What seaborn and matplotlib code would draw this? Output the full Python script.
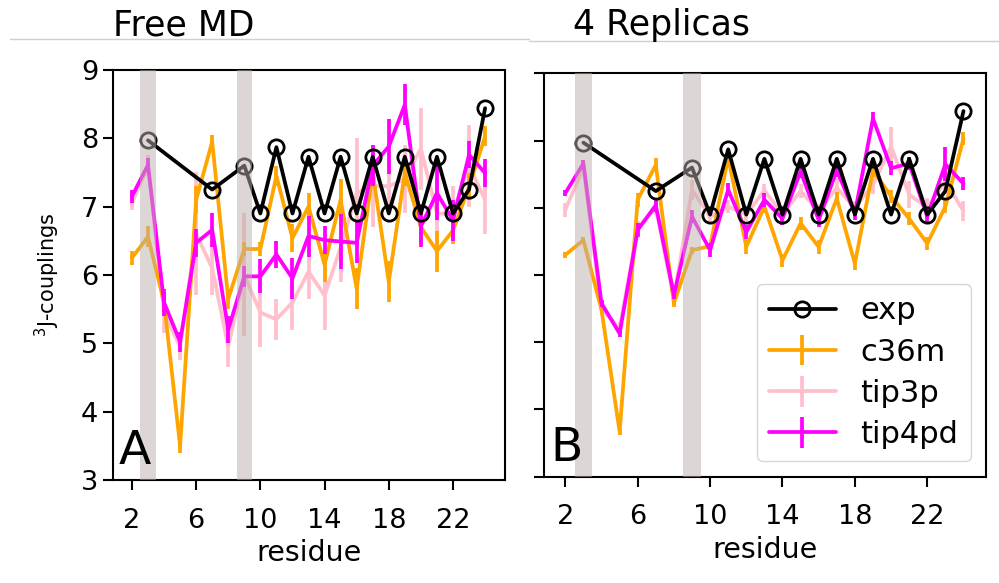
import numpy as np
import matplotlib
matplotlib.use("Agg")
import matplotlib.pyplot as plt
import seaborn as sns
from matplotlib.lines import Line2D

sns.set_theme(style="ticks")
plt.rcParams['font.family'] = ['DejaVu Sans']
plt.rcParams['text.color'] = 'black'
plt.rcParams['axes.labelcolor'] = 'black'

# data
residues = list(range(2, 25))
exp_res = [3, 7, 9, 10, 11, 12, 13, 14, 15, 16, 17, 18, 19, 20, 21, 22, 23, 24]
exp_val = [7.97, 7.25, 7.6, 6.9, 7.87, 6.9, 7.73, 6.9, 7.73, 6.9, 7.73, 6.9,
           7.73, 6.9, 7.73, 6.9, 7.25, 8.44]
highlight = [3, 9]

# Free MD
c36m_free = [6.25, 6.56, 5.6, 3.5, 7.1, 7.95, 5.65, 6.38, 6.38, 7.45, 6.54, 7.0,
             6.15, 7.1, 5.8, 7.5, 5.9, 7.5, 6.7, 6.35, 6.65, 7.29, 8.03]
c36m_free_err = [0.1, 0.15, 0.15, 0.1, 0.2, 0.1, 0.15, 0.1, 0.1, 0.15, 0.2, 0.2,
                 0.25, 0.3, 0.3, 0.2, 0.3, 0.2, 0.25, 0.3, 0.2, 0.2, 0.15]
tip3p_free = [7.05, 7.6, 5.45, 4.95, 6.6, 6.1, 4.95, 6.0, 5.45, 5.35, 5.6, 6.05,
              5.7, 6.4, 7.2, 7.3, 7.3, 7.4, 7.85, 6.9, 6.9, 7.6, 7.1]
tip3p_free_err = [0.1, 0.15, 0.3, 0.2, 0.9, 0.4, 0.3, 0.9, 0.5, 0.3, 0.4, 0.4,
                  0.5, 0.5, 0.8, 0.6, 0.4, 0.5, 0.6, 0.5, 0.4, 0.6, 0.5]
tip4pd_free = [7.15, 7.61, 5.6, 5.02, 6.47, 6.66, 5.2, 5.98, 5.98, 6.3, 5.95, 6.57,
               6.51, 6.49, 6.47, 7.6, 7.88, 8.49, 6.71, 7.2, 6.8, 7.76, 7.49]
tip4pd_free_err = [0.1, 0.1, 0.2, 0.15, 0.2, 0.25, 0.2, 0.15, 0.25, 0.2, 0.3, 0.3,
                   0.2, 0.4, 0.3, 0.3, 0.4, 0.3, 0.3, 0.4, 0.3, 0.2, 0.2]

# 4 replicas
c36m_rep = [6.3, 6.52, 5.48, 3.67, 7.12, 7.64, 5.58, 6.37, 6.43, 7.75, 6.42, 7.02,
            6.22, 6.77, 6.42, 7.14, 6.17, 7.56, 7.17, 6.84, 6.47, 7.02, 8.03]
c36m_rep_err = [0.05, 0.05, 0.05, 0.05, 0.1, 0.1, 0.05, 0.05, 0.05, 0.1, 0.1, 0.1,
                0.1, 0.1, 0.1, 0.1, 0.1, 0.1, 0.1, 0.1, 0.1, 0.1, 0.1]
tip3p_rep = [6.97, 7.6, 5.5, 5.2, 6.7, 7.0, 5.65, 7.27, 6.87, 7.02, 6.9, 7.26,
             6.9, 7.25, 6.95, 7.3, 7.0, 7.35, 7.91, 7.2, 7.0, 7.4, 6.95]
tip3p_rep_err = [0.1, 0.1, 0.1, 0.1, 0.1, 0.1, 0.1, 0.15, 0.1, 0.1, 0.1, 0.1,
                 0.1, 0.1, 0.1, 0.15, 0.1, 0.15, 0.3, 0.2, 0.15, 0.2, 0.15]
tip4pd_rep = [7.22, 7.66, 5.58, 5.13, 6.67, 7.04, 5.7, 6.87, 6.37, 7.27, 6.64, 7.12,
              6.84, 7.54, 6.82, 7.56, 6.92, 8.33, 7.59, 7.66, 6.87, 7.65, 7.36]
tip4pd_rep_err = [0.05, 0.05, 0.05, 0.05, 0.1, 0.1, 0.05, 0.1, 0.1, 0.1, 0.1, 0.1,
                  0.1, 0.1, 0.1, 0.1, 0.1, 0.1, 0.1, 0.1, 0.1, 0.25, 0.1]

colors = {'c36m': 'orange', 'tip3p': 'pink', 'tip4pd': 'magenta'}

fig = plt.figure(figsize=(9.99, 5.83), dpi=100)
ax1 = fig.add_axes([0.1131, 0.1767, 0.3924, 0.7033])
ax2 = fig.add_axes([0.5445, 0.1824, 0.4424, 0.6916])


def draw(ax, sims, letter):
    handles = []
    for name, (vals, errs), z in zip(['c36m', 'tip3p', 'tip4pd'], sims, [3, 2, 4]):
        h = ax.errorbar(residues, vals, yerr=errs, color=colors[name], lw=2.7,
                        elinewidth=2.7, capsize=0, label=name, zorder=z)
        handles.append(h)
    sns.lineplot(x=exp_res, y=exp_val, ax=ax, color='black', lw=2.7, marker='o',
                 markersize=11, markerfacecolor='none', markeredgecolor='black',
                 markeredgewidth=2, zorder=5, legend=False)
    for r in highlight:
        ax.axvspan(r - 0.47, r + 0.47, color='#bbb1ab', alpha=0.5, lw=0, zorder=10)
    ax.set_xlim(0.82, 25.24)
    ax.set_ylim(3, 9)
    ax.set_xticks([2, 6, 10, 14, 18, 22])
    ax.set_yticks([3, 4, 5, 6, 7, 8, 9])
    ax.tick_params(labelsize=19.5, length=7, width=1.5, colors='black')
    ax.tick_params(axis='x', pad=13)
    for s in ax.spines.values():
        s.set_linewidth(1.5)
        s.set_color('black')
    ax.set_xlabel('residue', fontsize=20.5, labelpad=4)
    ax.text(0.015, 0.015, letter, transform=ax.transAxes, fontsize=34,
            ha='left', va='bottom', zorder=11)
    exp_handle = Line2D([], [], color='black', lw=2.7, marker='o', markersize=11,
                        markerfacecolor='none', markeredgewidth=2)
    return [exp_handle] + handles


draw(ax1, [(c36m_free, c36m_free_err), (tip3p_free, tip3p_free_err),
           (tip4pd_free, tip4pd_free_err)], 'A')
hs = draw(ax2, [(c36m_rep, c36m_rep_err), (tip3p_rep, tip3p_rep_err),
                (tip4pd_rep, tip4pd_rep_err)], 'B')
ax1.set_ylabel('$^3$J-couplings', fontsize=15, labelpad=14)
ax2.set_yticklabels([])
ax2.legend(hs, ['exp', 'c36m', 'tip3p', 'tip4pd'], loc='lower right', fontsize=22,
           handlelength=2.2, handletextpad=0.8, labelspacing=0.4,
           fancybox=True, framealpha=0.8)

fig.text(113 / 999, 1 - 25 / 583, 'Free MD', fontsize=25, ha='left', va='center')
fig.text(573 / 999, 1 - 25 / 583, '4 Replicas', fontsize=25, ha='left', va='center')
fig.add_artist(Line2D([0.01, 0.53], [1 - 39 / 583, 1 - 39 / 583], color='#cfcfcf', lw=1))
fig.add_artist(Line2D([0.53, 1.0], [1 - 41 / 583, 1 - 41 / 583], color='#cfcfcf', lw=1))

fig.savefig('out.png', dpi=100)
